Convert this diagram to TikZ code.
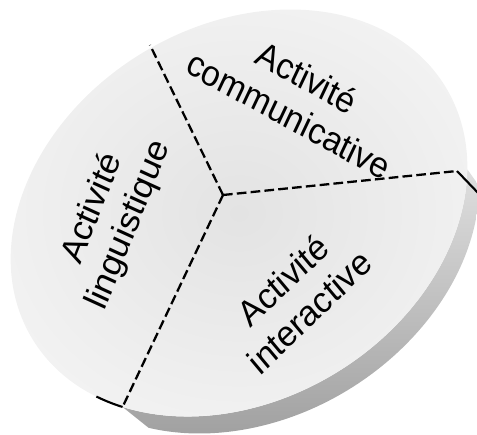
\documentclass[tikz,border=0pt]{standalone}
\usepackage{fontspec}
\setmainfont{Liberation Sans}
\usepackage{tikz}

\begin{document}
\begin{tikzpicture}[x=0.02cm, y=0.02cm,
    cutline/.style={dash pattern=on 5.5pt off 2.4pt, line width=1.3pt},
    rim/.style={line width=1.2pt},
    txt/.style={align=center, font=\fontsize{20.5}{24}\selectfont, inner sep=0pt, xscale=0.93}]
    \useasboundingbox (0,0) rectangle (477,434);

    % Disc: side band and top face
    \begin{scope}[shift={(239,221)}, rotate=31.5]
        \path[bottom color=gray!75, top color=gray!25]
            (214:242 and 187) arc[start angle=214, end angle=334, x radius=242, y radius=187]
            -- ++(1.4,-20.8)
            arc[start angle=334, end angle=218, x radius=242, y radius=187] -- cycle;
        \path[inner color=gray!22, outer color=gray!10] (0,0) ellipse[x radius=242, y radius=187];
        \coordinate (L) at (214:242 and 187);
        \draw[rim] (206:242 and 187) arc[start angle=206, end angle=214, x radius=242, y radius=187];
    \end{scope}

    % Define points
    \coordinate (O) at (223,239);
    \coordinate (T) at (150,389);
    \coordinate (R) at (457,263);
    \coordinate (Rb) at (481,238);

    % Draw cuts
    \draw[cutline] (O) -- (T);
    \draw[cutline] (O) -- (R);
    \draw[cutline] (O) -- (L);
    \draw[rim] (R) -- (Rb);

    % Labels
    \node[txt, rotate=-27] (comm) at (298,338) {Activité\\communicative};
    \node[txt, rotate=42] (inter) at (296,138) {Activité\\interactive};
    \node[txt, rotate=67] (ling) at (111,217) {Activité\\linguistique};
\end{tikzpicture}
\end{document}
